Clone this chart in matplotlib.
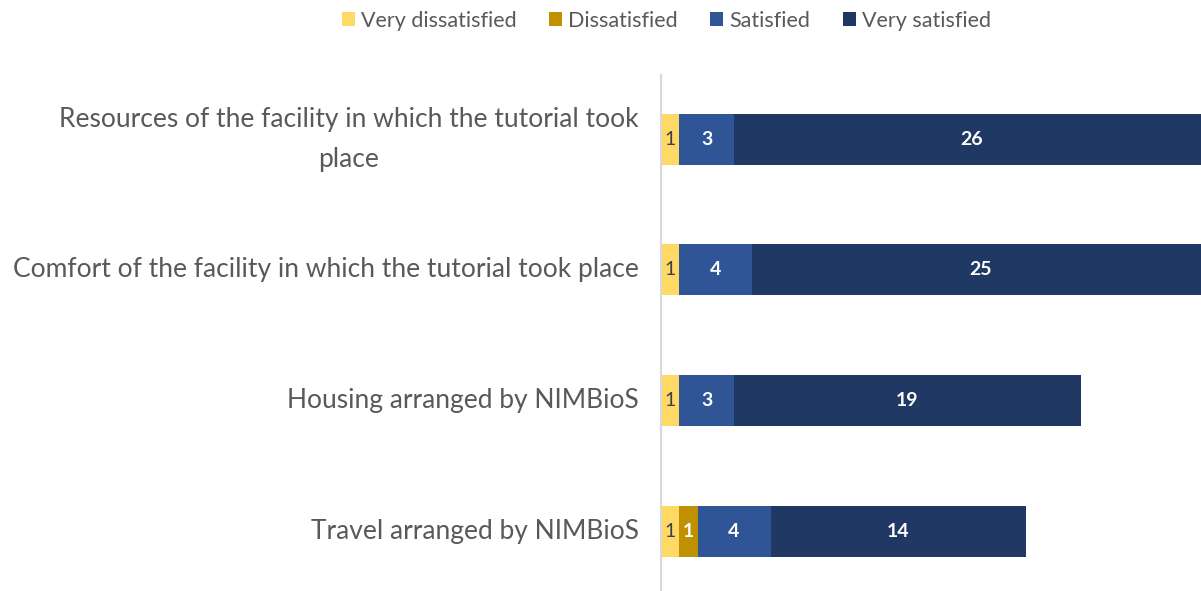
import matplotlib
matplotlib.use("Agg")
import matplotlib.pyplot as plt
import numpy as np

plt.rcParams['font.family'] = ['Lato', 'DejaVu Sans']

categories = ["Travel arranged by NIMBioS",
              "Housing arranged by NIMBioS",
              "Comfort of the facility in which the tutorial took place",
              "Resources of the facility in which the tutorial took\nplace"]
series_names = ["Very dissatisfied", "Dissatisfied", "Satisfied", "Very satisfied"]
very_dissatisfied = [1, 1, 1, 1]
dissatisfied = [1, 0, 0, 0]
satisfied = [4, 3, 4, 3]
very_satisfied = [14, 19, 25, 26]

colors = ["#FFD966", "#BF9000", "#2F5597", "#203864"]
label_colors = ["#404040", "white", "white", "white"]

fig = plt.figure(figsize=(12.01, 5.91), dpi=100)
ax = fig.add_axes([661 / 1201, 1 - 590 / 591, 540 / 1201, 515 / 591])

y = np.arange(len(categories))
left = np.zeros(len(categories))
for name, vals, col, lc in zip(series_names,
                               [very_dissatisfied, dissatisfied, satisfied, very_satisfied],
                               colors, label_colors):
    vals = np.array(vals, dtype=float)
    bars = ax.barh(y, vals, left=left, height=0.39, color=col, label=name)
    for b, v in zip(bars, vals):
        if v > 0:
            ax.text(b.get_x() + b.get_width() / 2, b.get_y() + b.get_height() / 2,
                    "%d" % v, ha="center", va="center", fontsize=14,
                    color=lc, fontweight="bold" if lc == "white" else "normal")
    left += vals

ax.set_xlim(0, 540 / 18.25)
ax.set_ylim(-0.45, 3.49)
ax.set_yticks(y)
ax.set_yticklabels(categories, fontsize=19, color="#595959", linespacing=1.75)
for t in ax.get_yticklabels():
    t.set_horizontalalignment("right")
    t.set_verticalalignment("center")
    t.set_multialignment("center")
ax.tick_params(axis="y", length=0, pad=16)
ax.set_xticks([])
for s in ["top", "right", "bottom"]:
    ax.spines[s].set_visible(False)
ax.spines["left"].set_color("#D9D9D9")
ax.spines["left"].set_linewidth(1.5)

fig.legend(loc="upper center", bbox_to_anchor=(0.555, 1.015), ncol=4, frameon=False,
           fontsize=15.5, handlelength=0.6, handleheight=0.6, handletextpad=0.3,
           columnspacing=1.5, labelcolor="#595959")

fig.savefig("out.png", dpi=100)
